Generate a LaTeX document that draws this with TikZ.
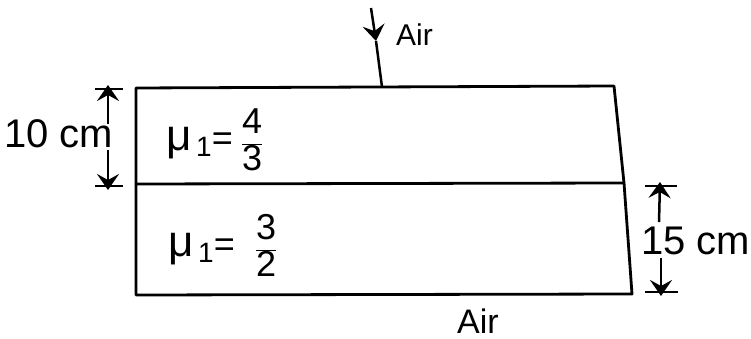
\documentclass[tikz,border=0pt]{standalone}
\usepackage{fontspec}
\setmainfont{Liberation Sans}
\usetikzlibrary{arrows.meta}
\newcommand{\myfr}[2]{$\displaystyle\frac{\hbox{#1}}{\hbox{#2}}$}
\newcommand{\mymu}{{\fontsize{44}{44}\selectfont μ}\raisebox{-6pt}{\fontsize{28}{28}\selectfont\,1}}
\begin{document}
\begin{tikzpicture}[x=1pt,y=-1pt,
  edge/.style={line width=2.8pt,line cap=round,line join=round},
  dim/.style={line width=2.5pt},
  tip/.style={-{Stealth[length=16pt,width=22pt,inset=6pt]}},
  lbl/.style={font=\fontsize{40}{42}\selectfont,inner sep=0pt},
  small/.style={font=\fontsize{30}{32}\selectfont,inner sep=0pt},
  big/.style={font=\fontsize{34}{36}\selectfont,inner sep=0pt},
  mu/.style={font=\fontsize{36}{38}\selectfont,inner sep=0pt}]
\useasboundingbox (0,0) rectangle (751,339);
% box corners
\coordinate (tl) at (136,88);
\coordinate (tr) at (614,86);
\coordinate (ml) at (136,184);
\coordinate (mr) at (624,183);
\coordinate (bl) at (136,295);
\coordinate (br) at (632,294);
\draw[edge] (tl) -- (tr) -- (mr) -- (br) -- (bl) -- (ml) -- cycle;
\draw[edge] (ml) -- (mr);
% incident ray
\coordinate (r0) at (371,8);
\coordinate (r1) at (376,41);
\coordinate (r2) at (382,87);
\draw[dim,tip] (r0) -- (r1);
\draw[dim] (r1) -- (r2);
\node[small,anchor=base west] (airtop) at (396,46) {Air};
\node[big,anchor=base] (airbot) at (478,333) {Air};
% 10 cm
\coordinate (a1) at (95,89); \coordinate (a2) at (123,89);
\coordinate (a3) at (95,186); \coordinate (a4) at (123,186);
\draw[dim] (a1) -- (a2);
\draw[dim] (a3) -- (a4);
\coordinate (at) at (108,89);
\coordinate (ab) at (108,186);
\coordinate (am1) at (108,124);
\coordinate (am2) at (108,150);
\draw[dim,tip] (am1) -- ([yshift=4pt]at);
\draw[dim,tip] (am2) -- ([yshift=-4pt]ab);
\node[lbl,anchor=base west] (ten) at (4,148) {10 cm};
% 15 cm
\coordinate (b1) at (645,186); \coordinate (b2) at (677,186);
\coordinate (b3) at (645,292); \coordinate (b4) at (678,292);
\draw[dim] (b1) -- (b2);
\draw[dim] (b3) -- (b4);
\coordinate (bt) at (660,186);
\coordinate (bb) at (661,292);
\coordinate (bm1) at (659,222);
\coordinate (bm2) at (661,258);
\draw[dim,tip] (bm1) -- ([yshift=4pt]bt);
\draw[dim,tip] (bm2) -- ([yshift=-4pt]bb);
\node[lbl,anchor=base west] (fif) at (641,254) {15 cm};
% refractive indices
\node[mu,anchor=base west] (m1) at (166,150) {\mymu=\hspace{8pt}\myfr{4}{3}};
\node[mu,anchor=base west] (m2) at (168,256) {\mymu=\hspace{20pt}\myfr{3}{2}};
\end{tikzpicture}
\end{document}
